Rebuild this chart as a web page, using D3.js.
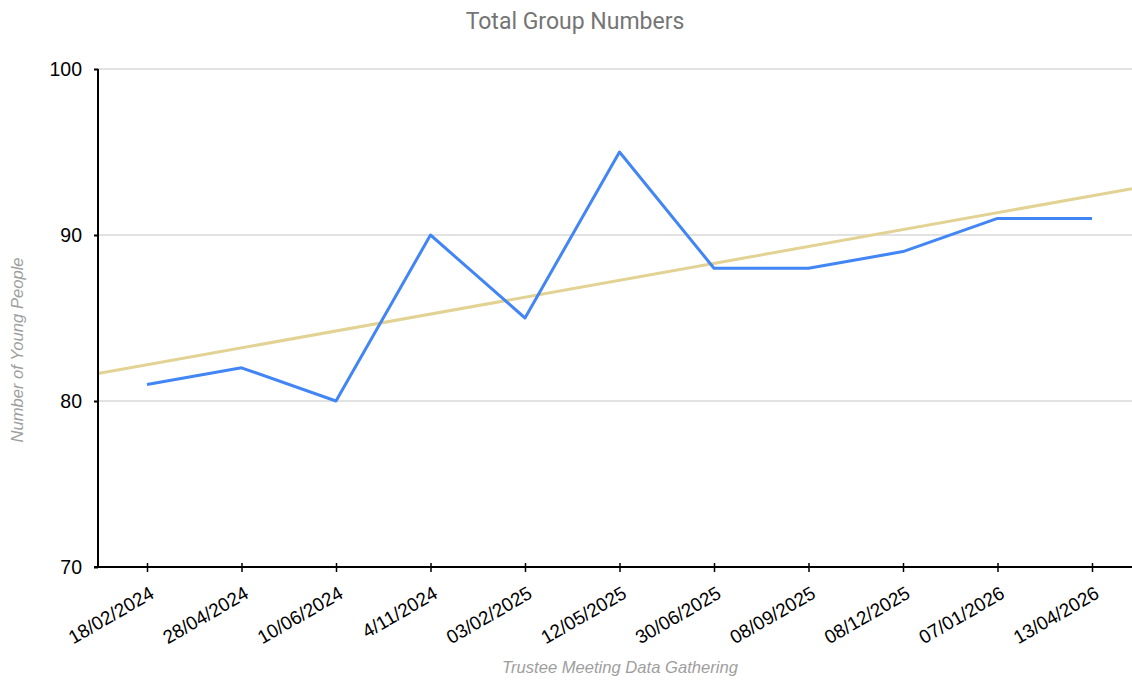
<!DOCTYPE html>
<html lang="en">
<head>
<meta charset="utf-8">
<script src="https://d3js.org/d3.v7.min.js"></script>
<style>
  body { margin: 0; background: #fff; }
  svg { display: block; }
</style>
</head>
<body>
<div id="chart"></div>
<script>
    // chart data
    const dates = ["18/02/2024", "28/04/2024", "10/06/2024", "4/11/2024", "03/02/2025",
                   "12/05/2025", "30/06/2025", "08/09/2025", "08/12/2025", "07/01/2026", "13/04/2026"];
    const youngPeople = [81, 82, 80, 90, 85, 95, 88, 88, 89, 91, 91];
    const yTicks = [70, 80, 90, 100];

    const W = 1132, H = 683;
    let margin = {top: 69, right: 0, bottom: 116, left: 98};

    let svg = d3.select("#chart").append("svg")
      .attr("width", W)
      .attr("height", H);

    // x is categorical, evenly spaced
    let x = d3.scalePoint()
      .domain(dates)
      .range([147, 1092]);

    let y = d3.scaleLinear()
      .domain([70, 100])
      .range([H - margin.bottom, margin.top]);

    // gridlines
    svg.append("g")
      .selectAll("line")
      .data(yTicks.slice(1))
      .join("line")
      .attr("x1", margin.left).attr("x2", W)
      .attr("y1", d => y(d)).attr("y2", d => y(d))
      .attr("stroke", "#c6c6c6")
      .attr("stroke-width", 1.2);

    // linear trendline (least squares over point index)
    let n = youngPeople.length;
    let mi = d3.mean(youngPeople, (d, i) => i);
    let mv = d3.mean(youngPeople);
    let slope = d3.sum(youngPeople, (d, i) => (i - mi) * (d - mv)) / d3.sum(youngPeople, (d, i) => (i - mi) * (i - mi));
    let icpt = mv - slope * mi;
    let xi = d3.scaleLinear().domain([0, n - 1]).range([x(dates[0]), x(dates[n - 1])]);
    let iL = xi.invert(margin.left), iR = xi.invert(W);

    svg.append("line")
      .attr("x1", xi(iL)).attr("y1", y(icpt + slope * iL))
      .attr("x2", xi(iR)).attr("y2", y(icpt + slope * iR))
      .attr("stroke", "#e2d394")
      .attr("stroke-width", 3);

    // the data line
    svg.append("path")
      .datum(youngPeople)
      .attr("fill", "none")
      .attr("stroke", "#4285f4")
      .attr("stroke-width", 3)
      .attr("stroke-linejoin", "round")
      .attr("d", d3.line()
        .x((d, i) => x(dates[i]))
        .y(d => y(d)));

    // Y axis
    let yAxis = svg.append("g")
      .attr("transform", "translate(" + margin.left + ",0)")
      .call(d3.axisLeft(y).tickValues(yTicks).tickSize(4).tickPadding(12).tickFormat(d3.format("d")));
    yAxis.select(".domain").attr("stroke", "#000").attr("stroke-width", 2).attr("d", "M0," + y(100) + "V" + y(70));
    yAxis.selectAll(".tick line").attr("stroke", "#000").attr("stroke-width", 2);
    yAxis.selectAll("text").attr("font-family", "Liberation Sans, Arial, sans-serif").attr("font-size", 19.5).attr("fill", "#000");

    // X axis
    let xAxis = svg.append("g")
      .attr("transform", "translate(0," + y(70) + ")")
      .call(d3.axisBottom(x).tickSizeInner(5).tickSizeOuter(0));
    xAxis.select(".domain").attr("stroke", "#000").attr("stroke-width", 2).attr("d", "M" + (margin.left - 4) + ",0H" + W);
    xAxis.selectAll(".tick line").attr("stroke", "#000").attr("stroke-width", 1.5).attr("y1", -4).attr("y2", 5);
    xAxis.selectAll("text")
      .attr("font-family", "Liberation Sans, Arial, sans-serif")
      .attr("font-size", 19)
      .attr("fill", "#000")
      .attr("text-anchor", "end")
      .attr("dy", 0)
      .attr("y", 0)
      .attr("transform", "translate(8,30) rotate(-30)");

    // titles
    svg.append("text")
      .attr("x", 575).attr("y", 29)
      .attr("text-anchor", "middle")
      .attr("font-family", "Roboto, sans-serif")
      .attr("font-size", 23)
      .attr("fill", "#757575")
      .text("Total Group Numbers");

    svg.append("text")
      .attr("x", 620).attr("y", 673)
      .attr("text-anchor", "middle")
      .attr("font-family", "Liberation Sans, Arial, sans-serif")
      .attr("font-style", "italic")
      .attr("font-size", 16.6)
      .attr("fill", "#9e9e9e")
      .text("Trustee Meeting Data Gathering");

    svg.append("text")
      .attr("transform", "translate(23,350) rotate(-90)")
      .attr("text-anchor", "middle")
      .attr("font-family", "Liberation Sans, Arial, sans-serif")
      .attr("font-style", "italic")
      .attr("font-size", 16.6)
      .attr("fill", "#9e9e9e")
      .text("Number of Young People");
</script>
</body>
</html>
